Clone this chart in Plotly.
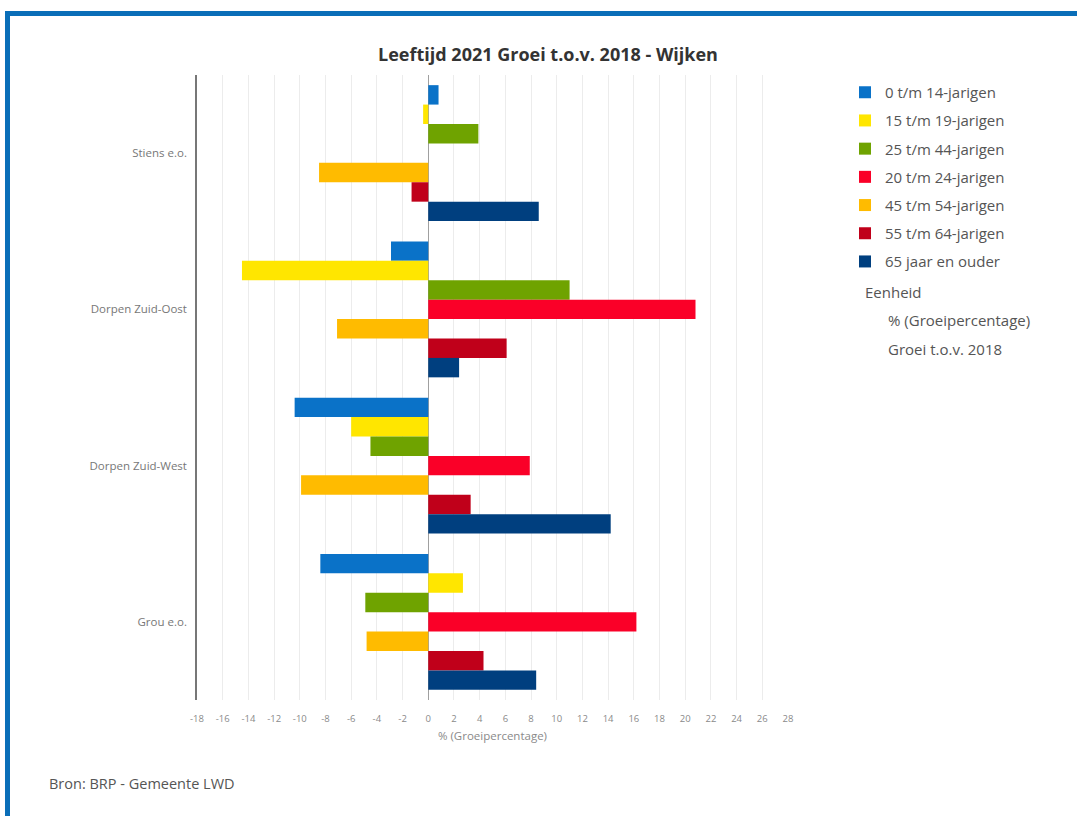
import plotly.graph_objects as go

wijken = ["Stiens e.o.", "Dorpen Zuid-Oost", "Dorpen Zuid-West", "Grou e.o."]

series_names = [
    "0 t/m 14-jarigen",
    "15 t/m 19-jarigen",
    "25 t/m 44-jarigen",
    "20 t/m 24-jarigen",
    "45 t/m 54-jarigen",
    "55 t/m 64-jarigen",
    "65 jaar en ouder",
]

v_0_14 = [0.8, -2.9, -10.4, -8.4]
v_15_19 = [-0.4, -14.5, -6.0, 2.7]
v_25_44 = [3.9, 11.0, -4.5, -4.9]
v_20_24 = [None, 20.8, 7.9, 16.2]
v_45_54 = [-8.5, -7.1, -9.9, -4.8]
v_55_64 = [-1.3, 6.1, 3.3, 4.3]
v_65plus = [8.6, 2.4, 14.2, 8.4]

values = [v_0_14, v_15_19, v_25_44, v_20_24, v_45_54, v_55_64, v_65plus]
colors = ["#0A72C8", "#FFE600", "#6FA300", "#FA0028", "#FFBB00", "#C0001A", "#003F7F"]

x_ticks = list(range(-18, 29, 2))

W, H = 1077, 816
ML, MR, MT, MB = 197, 289, 75, 116
PW = W - ML - MR
PH = H - MT - MB


def px(xp):
    return (xp - ML) / PW


def py(yp):
    return (H - MB - yp) / PH


fig = go.Figure()
for i, (name, vals, col) in enumerate(zip(series_names, values, colors)):
    fig.add_trace(go.Bar(
        y=wijken, x=vals, name=name, orientation="h",
        marker=dict(color=col, line=dict(width=0)),
        legendgroup=f"g{i}",
    ))

grey = "#6f6f6f"
FONT = "Open Sans"

fig.update_layout(
    width=W, height=H,
    margin=dict(l=ML, r=MR, t=MT, b=MB),
    paper_bgcolor="white", plot_bgcolor="white",
    barmode="group", bargap=0.13, bargroupgap=0,
    font=dict(family=FONT, color=grey),
    title=dict(
        text="<b>Leeftijd 2021 Groei t.o.v. 2018 - Wijken</b>",
        x=548 / W, xanchor="center", y=1 - 55 / H, yanchor="middle",
        font=dict(family=FONT, size=18, color="#333333"),
    ),
    xaxis=dict(
        range=[-18, 28], tickvals=x_ticks, ticktext=[str(t) for t in x_ticks],
        showgrid=True, gridcolor="#ececec", gridwidth=1,
        zeroline=True, zerolinecolor="#a0a0a0", zerolinewidth=1,
        showline=False, ticks="",
        tickfont=dict(size=9.5, color="#8a8a8a"),
        ticklabelstandoff=11,
        title=dict(text="% (Groeipercentage)", font=dict(size=11.5, color="#8a8a8a"), standoff=8),
        fixedrange=True,
    ),
    yaxis=dict(
        autorange="reversed", showgrid=False, zeroline=False,
        showline=True, linecolor="#777777", linewidth=1.5,
        ticks="", tickfont=dict(size=11.5, color="#777777"),
        ticklabelstandoff=6,
    ),
    legend=dict(
        x=px(845), xanchor="left", y=py(76), yanchor="top",
        traceorder="grouped", tracegroupgap=5.7,
        font=dict(size=15, color="#555555", family=FONT),
        bgcolor="rgba(0,0,0,0)",
    ),
    showlegend=True,
)

ann_font = dict(size=15, color="#555555", family=FONT)
fig.add_annotation(text="Eenheid", xref="paper", yref="paper", x=px(863), y=py(292),
                   xanchor="left", yanchor="middle", showarrow=False, font=ann_font)
fig.add_annotation(text="% (Groeipercentage)", xref="paper", yref="paper", x=px(886), y=py(320),
                   xanchor="left", yanchor="middle", showarrow=False, font=ann_font)
fig.add_annotation(text="Groei t.o.v. 2018", xref="paper", yref="paper", x=px(886), y=py(349),
                   xanchor="left", yanchor="middle", showarrow=False, font=ann_font)
fig.add_annotation(text="Bron: BRP - Gemeente LWD", xref="paper", yref="paper", x=px(47), y=py(783),
                   xanchor="left", yanchor="middle", showarrow=False,
                   font=dict(size=14.5, color="#555555", family=FONT))

border = "#0A6EB8"
fig.add_shape(type="rect", xref="paper", yref="paper", x0=px(5), x1=px(W), y0=py(16), y1=py(11),
              fillcolor=border, line=dict(width=0), layer="above")
fig.add_shape(type="rect", xref="paper", yref="paper", x0=px(5), x1=px(10), y0=py(H), y1=py(11),
              fillcolor=border, line=dict(width=0), layer="above")

fig.write_html("out.html")
